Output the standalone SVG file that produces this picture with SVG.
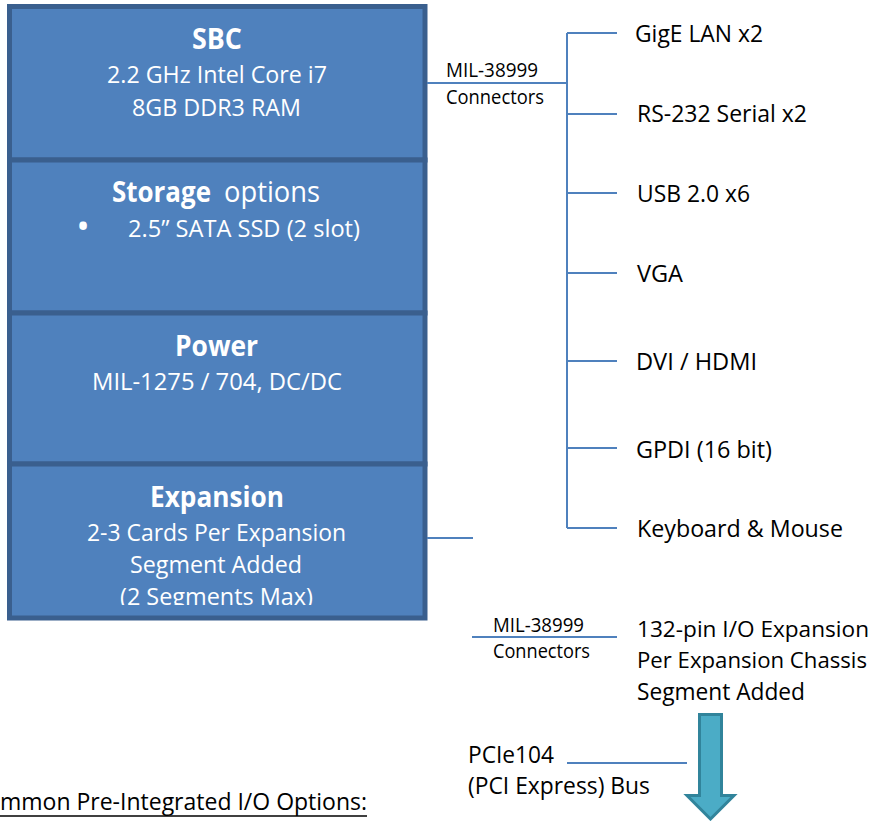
<svg xmlns="http://www.w3.org/2000/svg" width="875" height="821" viewBox="0 0 875 821">
<style>
.box{fill:#4F81BD;stroke:#3A5F8E;stroke-width:5}
.w{fill:#FFFFFF;font-family:"Open Sans","Noto Sans",sans-serif}
.k{fill:#000000;font-family:"Open Sans","Noto Sans",sans-serif}
.t{font-size:29px;font-weight:bold}
.s{font-size:24px}
.sm{font-size:19.5px}
.ln{stroke:#4F81BD;stroke-width:2;fill:none}
</style>
<defs>
<clipPath id="expClip"><rect x="0" y="464" width="440" height="141"/></clipPath>
</defs>
<rect width="875" height="821" fill="#FFFFFF"/>
<g id="sbc">
<rect class="box" x="9.5" y="6.5" width="415.5" height="153.5"/>
<text class="w t" x="192" y="49" textLength="50" lengthAdjust="spacingAndGlyphs">SBC</text>
<text class="w s" x="107" y="83" textLength="220" lengthAdjust="spacingAndGlyphs">2.2 GHz Intel Core i7</text>
<text class="w s" x="132" y="116" textLength="169" lengthAdjust="spacingAndGlyphs">8GB DDR3 RAM</text>
</g>
<g id="storage">
<rect class="box" x="9.5" y="160" width="415.5" height="153"/>
<text class="w t" x="112" y="202" textLength="99" lengthAdjust="spacingAndGlyphs">Storage</text>
<text class="w" x="224" y="202" font-size="29" textLength="96" lengthAdjust="spacingAndGlyphs">options</text>
<text class="w" x="83" y="239" font-size="36" text-anchor="middle">•</text>
<text class="w s" x="128" y="237" textLength="232" lengthAdjust="spacingAndGlyphs">2.5” SATA SSD (2 slot)</text>
</g>
<g id="power">
<rect class="box" x="9.5" y="313" width="415.5" height="151"/>
<text class="w t" x="175" y="356" textLength="83" lengthAdjust="spacingAndGlyphs">Power</text>
<text class="w s" x="92" y="390" textLength="250" lengthAdjust="spacingAndGlyphs">MIL-1275 / 704, DC/DC</text>
</g>
<g id="expansion">
<rect class="box" x="9.5" y="464" width="415.5" height="154"/>
<text class="w t" x="150" y="507" textLength="134" lengthAdjust="spacingAndGlyphs">Expansion</text>
<text class="w s" x="87" y="541" textLength="259" lengthAdjust="spacingAndGlyphs">2-3 Cards Per Expansion</text>
<text class="w s" x="130" y="573" textLength="172" lengthAdjust="spacingAndGlyphs">Segment Added</text>
<text class="w s" x="120" y="605" textLength="193" lengthAdjust="spacingAndGlyphs" clip-path="url(#expClip)">(2 Segments Max)</text>
</g>
<g id="connectors">
<path class="ln" d="M427,83 H567 M567,33 V528 M567,33 H617 M567,114 H617 M567,193 H617 M567,273 H617 M567,361 H617 M567,448 H617 M567,528 H617"/>
<path class="ln" d="M427,538 H473"/>
<path class="ln" d="M472,637 H617"/>
<path class="ln" d="M567,763 H687"/>
</g>
<g id="mil-label-1">
<text class="k sm" x="446" y="77" textLength="92" lengthAdjust="spacingAndGlyphs">MIL-38999</text>
<text class="k sm" x="446" y="104" textLength="98" lengthAdjust="spacingAndGlyphs">Connectors</text>
</g>
<g id="io-gige"><text class="k s" x="635" y="42" textLength="128" lengthAdjust="spacingAndGlyphs">GigE LAN x2</text></g>
<g id="io-rs232"><text class="k s" x="637" y="122" textLength="170" lengthAdjust="spacingAndGlyphs">RS-232 Serial x2</text></g>
<g id="io-usb"><text class="k s" x="637" y="202" textLength="113" lengthAdjust="spacingAndGlyphs">USB 2.0 x6</text></g>
<g id="io-vga"><text class="k s" x="637" y="282" textLength="46" lengthAdjust="spacingAndGlyphs">VGA</text></g>
<g id="io-dvi"><text class="k s" x="636" y="370" textLength="121" lengthAdjust="spacingAndGlyphs">DVI / HDMI</text></g>
<g id="io-gpdi"><text class="k s" x="636" y="458" textLength="136" lengthAdjust="spacingAndGlyphs">GPDI (16 bit)</text></g>
<g id="io-kbd"><text class="k s" x="637" y="537" textLength="206" lengthAdjust="spacingAndGlyphs">Keyboard &amp; Mouse</text></g>
<g id="mil-label-2">
<text class="k sm" x="493" y="632" textLength="91" lengthAdjust="spacingAndGlyphs">MIL-38999</text>
<text class="k sm" x="493" y="658" textLength="97" lengthAdjust="spacingAndGlyphs">Connectors</text>
</g>
<g id="io-expansion">
<text class="k" x="637" y="637" font-size="22" textLength="232" lengthAdjust="spacingAndGlyphs">132-pin I/O Expansion</text>
<text class="k" x="637" y="668" font-size="22" textLength="230" lengthAdjust="spacingAndGlyphs">Per Expansion Chassis</text>
<text class="k s" x="637" y="700" textLength="168" lengthAdjust="spacingAndGlyphs">Segment Added</text>
</g>
<g id="pcie-arrow">
<path d="M699.5,714.5 H721.5 V795.5 H734 L710.5,819 L687,795.5 H699.5 Z" fill="#4BACC6" stroke="#31849B" stroke-width="3" stroke-linejoin="miter"/>
</g>
<g id="pcie-label">
<text class="k s" x="468" y="763" textLength="86" lengthAdjust="spacingAndGlyphs">PCIe104</text>
<text class="k s" x="468" y="794" textLength="182" lengthAdjust="spacingAndGlyphs">(PCI Express) Bus</text>
</g>
<g id="options-title">
<text class="k s" x="0" y="810" textLength="367" lengthAdjust="spacingAndGlyphs">mmon Pre-Integrated I/O Options:</text>
<line x1="0" y1="816" x2="367" y2="816" stroke="#000000" stroke-width="1.5"/>
</g>
</svg>
